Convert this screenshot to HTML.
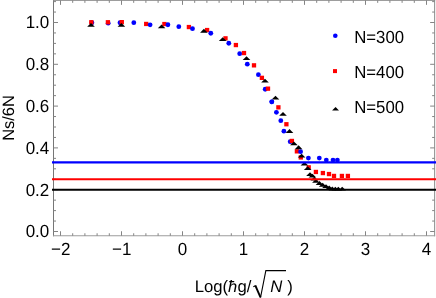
<!DOCTYPE html>
<html><head><meta charset="utf-8"><title>plot</title>
<style>html,body{margin:0;padding:0;background:#fff;}body{width:436px;height:298px;overflow:hidden;font-family:"Liberation Sans",sans-serif;}</style>
</head><body>
<svg width="436" height="298" viewBox="0 0 436 298" style="display:block;will-change:transform;opacity:0.999">
<rect x="0" y="0" width="436" height="298" fill="#fff"/>
<g>
<circle cx="91.9" cy="22.65" r="2.4" fill="#0000ff"/>
<circle cx="108.2" cy="23.15" r="2.4" fill="#0000ff"/>
<circle cx="120.0" cy="22.75" r="2.4" fill="#0000ff"/>
<circle cx="133.8" cy="22.65" r="2.4" fill="#0000ff"/>
<circle cx="178.8" cy="26.65" r="2.4" fill="#0000ff"/>
<circle cx="239.7" cy="53.65" r="2.4" fill="#0000ff"/>
<circle cx="247.3" cy="64.15" r="2.4" fill="#0000ff"/>
<circle cx="258.4" cy="74.65" r="2.4" fill="#0000ff"/>
<circle cx="265.2" cy="89.25" r="2.4" fill="#0000ff"/>
<circle cx="271.8" cy="101.85" r="2.4" fill="#0000ff"/>
<circle cx="276.4" cy="112.35" r="2.4" fill="#0000ff"/>
<circle cx="280.8" cy="120.65" r="2.4" fill="#0000ff"/>
<circle cx="283.9" cy="131.15" r="2.4" fill="#0000ff"/>
<circle cx="290.2" cy="141.65" r="2.4" fill="#0000ff"/>
<circle cx="308.4" cy="158.05" r="2.4" fill="#0000ff"/>
<circle cx="319.3" cy="158.05" r="2.4" fill="#0000ff"/>
<circle cx="326.3" cy="160.05" r="2.4" fill="#0000ff"/>
<circle cx="333.0" cy="160.05" r="2.4" fill="#0000ff"/>
<circle cx="337.4" cy="160.05" r="2.4" fill="#0000ff"/>
<rect x="89.15" y="20.10" width="4.3" height="4.3" fill="#ff0000"/>
<rect x="105.75" y="20.10" width="4.3" height="4.3" fill="#ff0000"/>
<rect x="119.65" y="20.00" width="4.3" height="4.3" fill="#ff0000"/>
<rect x="144.05" y="21.80" width="4.3" height="4.3" fill="#ff0000"/>
<rect x="162.25" y="21.90" width="4.3" height="4.3" fill="#ff0000"/>
<rect x="186.75" y="24.90" width="4.3" height="4.3" fill="#ff0000"/>
<rect x="204.95" y="27.90" width="4.3" height="4.3" fill="#ff0000"/>
<rect x="223.35" y="36.20" width="4.3" height="4.3" fill="#ff0000"/>
<rect x="233.75" y="42.90" width="4.3" height="4.3" fill="#ff0000"/>
<rect x="241.85" y="50.90" width="4.3" height="4.3" fill="#ff0000"/>
<rect x="251.85" y="63.20" width="4.3" height="4.3" fill="#ff0000"/>
<rect x="259.75" y="75.70" width="4.3" height="4.3" fill="#ff0000"/>
<rect x="265.85" y="86.50" width="4.3" height="4.3" fill="#ff0000"/>
<rect x="276.25" y="105.20" width="4.3" height="4.3" fill="#ff0000"/>
<rect x="284.25" y="122.10" width="4.3" height="4.3" fill="#ff0000"/>
<rect x="289.75" y="138.80" width="4.3" height="4.3" fill="#ff0000"/>
<rect x="294.75" y="149.20" width="4.3" height="4.3" fill="#ff0000"/>
<rect x="298.65" y="155.30" width="4.3" height="4.3" fill="#ff0000"/>
<rect x="306.55" y="165.20" width="4.3" height="4.3" fill="#ff0000"/>
<rect x="313.75" y="169.80" width="4.3" height="4.3" fill="#ff0000"/>
<rect x="320.75" y="170.90" width="4.3" height="4.3" fill="#ff0000"/>
<rect x="326.85" y="171.90" width="4.3" height="4.3" fill="#ff0000"/>
<rect x="331.85" y="173.80" width="4.3" height="4.3" fill="#ff0000"/>
<rect x="339.75" y="173.80" width="4.3" height="4.3" fill="#ff0000"/>
<rect x="345.75" y="173.80" width="4.3" height="4.3" fill="#ff0000"/>
<circle cx="150.1" cy="24.85" r="2.4" fill="#0000ff"/>
<circle cx="167.9" cy="24.75" r="2.4" fill="#0000ff"/>
<circle cx="192.5" cy="28.65" r="2.4" fill="#0000ff"/>
<circle cx="210.8" cy="33.25" r="2.4" fill="#0000ff"/>
<circle cx="228.8" cy="43.25" r="2.4" fill="#0000ff"/>
<circle cx="300.6" cy="151.65" r="2.4" fill="#0000ff"/>
<path d="M87.20 26.80L94.80 26.80L91.00 22.95Z" fill="#000"/>
<path d="M117.60 26.80L125.20 26.80L121.40 22.95Z" fill="#000"/>
<path d="M157.80 28.30L165.40 28.30L161.60 24.45Z" fill="#000"/>
<path d="M200.10 32.70L207.70 32.70L203.90 28.85Z" fill="#000"/>
<path d="M218.90 41.00L226.50 41.00L222.70 37.15Z" fill="#000"/>
<path d="M242.70 60.10L250.30 60.10L246.50 56.25Z" fill="#000"/>
<path d="M261.20 82.60L268.80 82.60L265.00 78.75Z" fill="#000"/>
<path d="M271.70 99.50L279.30 99.50L275.50 95.65Z" fill="#000"/>
<path d="M279.20 115.80L286.80 115.80L283.00 111.95Z" fill="#000"/>
<path d="M285.70 132.90L293.30 132.90L289.50 129.05Z" fill="#000"/>
<path d="M290.10 145.30L297.70 145.30L293.90 141.45Z" fill="#000"/>
<path d="M294.80 149.20L302.40 149.20L298.60 145.35Z" fill="#000"/>
<path d="M297.80 157.60L305.40 157.60L301.60 153.75Z" fill="#000"/>
<path d="M300.60 165.55L308.20 165.55L304.40 161.70Z" fill="#000"/>
<path d="M303.90 170.10L311.50 170.10L307.70 166.25Z" fill="#000"/>
<path d="M306.20 176.00L313.80 176.00L310.00 172.15Z" fill="#000"/>
<path d="M308.60 177.60L316.20 177.60L312.40 173.75Z" fill="#000"/>
<path d="M310.50 180.50L318.10 180.50L314.30 176.65Z" fill="#000"/>
<path d="M312.10 182.80L319.70 182.80L315.90 178.95Z" fill="#000"/>
<path d="M315.70 184.90L323.30 184.90L319.50 181.05Z" fill="#000"/>
<path d="M318.90 186.70L326.50 186.70L322.70 182.85Z" fill="#000"/>
<path d="M322.20 188.10L329.80 188.10L326.00 184.25Z" fill="#000"/>
<path d="M325.40 189.40L333.00 189.40L329.20 185.55Z" fill="#000"/>
<path d="M328.50 190.40L336.10 190.40L332.30 186.55Z" fill="#000"/>
<path d="M331.50 190.60L339.10 190.60L335.30 186.75Z" fill="#000"/>
<path d="M334.50 190.60L342.10 190.60L338.30 186.75Z" fill="#000"/>
<path d="M338.40 190.60L346.00 190.60L342.20 186.75Z" fill="#000"/>
<circle cx="271.8" cy="101.85" r="2.4" fill="#0000ff"/>
</g>
<g stroke="#848484" stroke-width="1" fill="none">
<path d="M53.5 -0.15000000000000002V236.25" stroke="#767676"/>
<path d="M434.65 -0.15000000000000002V236.25" stroke="#8a8a8a"/>
<path d="M53.0 0.35H435.15" stroke="#8c8c8c"/>
<path d="M53.0 235.75H435.15" stroke="#9c9c9c"/>
<path d="M60.50 235.75v-4.5M60.50 0.35v4.5"/>
<path d="M72.70 235.75v-2.5M72.70 0.35v2.5"/>
<path d="M84.90 235.75v-2.5M84.90 0.35v2.5"/>
<path d="M97.10 235.75v-2.5M97.10 0.35v2.5"/>
<path d="M109.30 235.75v-2.5M109.30 0.35v2.5"/>
<path d="M121.50 235.75v-4.5M121.50 0.35v4.5"/>
<path d="M133.70 235.75v-2.5M133.70 0.35v2.5"/>
<path d="M145.90 235.75v-2.5M145.90 0.35v2.5"/>
<path d="M158.10 235.75v-2.5M158.10 0.35v2.5"/>
<path d="M170.30 235.75v-2.5M170.30 0.35v2.5"/>
<path d="M182.50 235.75v-4.5M182.50 0.35v4.5"/>
<path d="M194.70 235.75v-2.5M194.70 0.35v2.5"/>
<path d="M206.90 235.75v-2.5M206.90 0.35v2.5"/>
<path d="M219.10 235.75v-2.5M219.10 0.35v2.5"/>
<path d="M231.30 235.75v-2.5M231.30 0.35v2.5"/>
<path d="M243.50 235.75v-4.5M243.50 0.35v4.5"/>
<path d="M255.70 235.75v-2.5M255.70 0.35v2.5"/>
<path d="M267.90 235.75v-2.5M267.90 0.35v2.5"/>
<path d="M280.10 235.75v-2.5M280.10 0.35v2.5"/>
<path d="M292.30 235.75v-2.5M292.30 0.35v2.5"/>
<path d="M304.50 235.75v-4.5M304.50 0.35v4.5"/>
<path d="M316.70 235.75v-2.5M316.70 0.35v2.5"/>
<path d="M328.90 235.75v-2.5M328.90 0.35v2.5"/>
<path d="M341.10 235.75v-2.5M341.10 0.35v2.5"/>
<path d="M353.30 235.75v-2.5M353.30 0.35v2.5"/>
<path d="M365.50 235.75v-4.5M365.50 0.35v4.5"/>
<path d="M377.70 235.75v-2.5M377.70 0.35v2.5"/>
<path d="M389.90 235.75v-2.5M389.90 0.35v2.5"/>
<path d="M402.10 235.75v-2.5M402.10 0.35v2.5"/>
<path d="M414.30 235.75v-2.5M414.30 0.35v2.5"/>
<path d="M426.50 235.75v-4.5M426.50 0.35v4.5"/>
<path d="M53.5 231.50h4.5M434.65 231.50h-4.5"/>
<path d="M53.5 221.05h2.5M434.65 221.05h-2.5"/>
<path d="M53.5 210.60h2.5M434.65 210.60h-2.5"/>
<path d="M53.5 200.15h2.5M434.65 200.15h-2.5"/>
<path d="M53.5 189.70h4.5M434.65 189.70h-4.5"/>
<path d="M53.5 179.25h2.5M434.65 179.25h-2.5"/>
<path d="M53.5 168.80h2.5M434.65 168.80h-2.5"/>
<path d="M53.5 158.35h2.5M434.65 158.35h-2.5"/>
<path d="M53.5 147.90h4.5M434.65 147.90h-4.5"/>
<path d="M53.5 137.45h2.5M434.65 137.45h-2.5"/>
<path d="M53.5 127.00h2.5M434.65 127.00h-2.5"/>
<path d="M53.5 116.55h2.5M434.65 116.55h-2.5"/>
<path d="M53.5 106.10h4.5M434.65 106.10h-4.5"/>
<path d="M53.5 95.65h2.5M434.65 95.65h-2.5"/>
<path d="M53.5 85.20h2.5M434.65 85.20h-2.5"/>
<path d="M53.5 74.75h2.5M434.65 74.75h-2.5"/>
<path d="M53.5 64.30h4.5M434.65 64.30h-4.5"/>
<path d="M53.5 53.85h2.5M434.65 53.85h-2.5"/>
<path d="M53.5 43.40h2.5M434.65 43.40h-2.5"/>
<path d="M53.5 32.95h2.5M434.65 32.95h-2.5"/>
<path d="M53.5 22.50h4.5M434.65 22.50h-4.5"/>
<path d="M53.5 12.05h2.5M434.65 12.05h-2.5"/>
<path d="M53.5 1.60h2.5M434.65 1.60h-2.5"/>
</g>
<line x1="52" x2="436" y1="162.35" y2="162.35" stroke="#0000ff" stroke-width="2.2"/>
<line x1="52" x2="436" y1="179.25" y2="179.25" stroke="#ff0000" stroke-width="2.2"/>
<line x1="52" x2="436" y1="189.75" y2="189.75" stroke="#000000" stroke-width="2.2"/>
<g font-family="Liberation Sans, sans-serif" font-size="17" fill="#000" text-rendering="geometricPrecision">
<text transform="translate(60.80,255.1) scale(1,1.04)" text-anchor="middle">−2</text>
<text transform="translate(121.80,255.1) scale(1,1.04)" text-anchor="middle">−1</text>
<text transform="translate(182.50,255.1) scale(1,1.04)" text-anchor="middle">0</text>
<text transform="translate(243.50,255.1) scale(1,1.04)" text-anchor="middle">1</text>
<text transform="translate(304.50,255.1) scale(1,1.04)" text-anchor="middle">2</text>
<text transform="translate(365.50,255.1) scale(1,1.04)" text-anchor="middle">3</text>
<text transform="translate(426.50,255.1) scale(1,1.04)" text-anchor="middle">4</text>
<text transform="translate(49.3,237.45) scale(1,1.04)" text-anchor="end">0.0</text>
<text transform="translate(49.3,195.65) scale(1,1.04)" text-anchor="end">0.2</text>
<text transform="translate(49.3,153.85) scale(1,1.04)" text-anchor="end">0.4</text>
<text transform="translate(49.3,112.05) scale(1,1.04)" text-anchor="end">0.6</text>
<text transform="translate(49.3,70.25) scale(1,1.04)" text-anchor="end">0.8</text>
<text transform="translate(49.3,28.45) scale(1,1.04)" text-anchor="end">1.0</text>
<text transform="translate(13.6,118.0) rotate(-90)" text-anchor="middle" font-size="16.45">Ns/6N</text>
<text transform="translate(354.2,42.55) scale(1,1.045)" font-size="16.75">N=300</text>
<text transform="translate(354.2,77.60) scale(1,1.045)" font-size="16.75">N=400</text>
<text transform="translate(354.2,112.65) scale(1,1.045)" font-size="16.75">N=500</text>
<g font-size="16.7"><text x="194.7" y="291.8">Log(<tspan font-style="italic">ħ</tspan>g/</text>
<text x="270.2" y="291.8" font-style="italic">N</text>
<text x="287.2" y="291.8">)</text></g>
</g>
<g fill="none" stroke="#000" stroke-linejoin="miter" stroke-miterlimit="10">
<path d="M253.3 286.8 L255.5 285.7" stroke-width="1.1"/>
<path d="M255.3 285.4 L260.5 297.3" stroke-width="1.9"/>
<path d="M260.5 297.6 L265.85 270.6 L286 270.6" stroke-width="1.1"/>
</g>
<circle cx="335.3" cy="35.7" r="2.3" fill="#0000ff"/>
<rect x="333.0" y="69.1" width="4" height="4" fill="#ff0000"/>
<path d="M332.1 110.5L339 110.5L335.55 107Z" fill="#000"/>
</svg>
</body></html>
